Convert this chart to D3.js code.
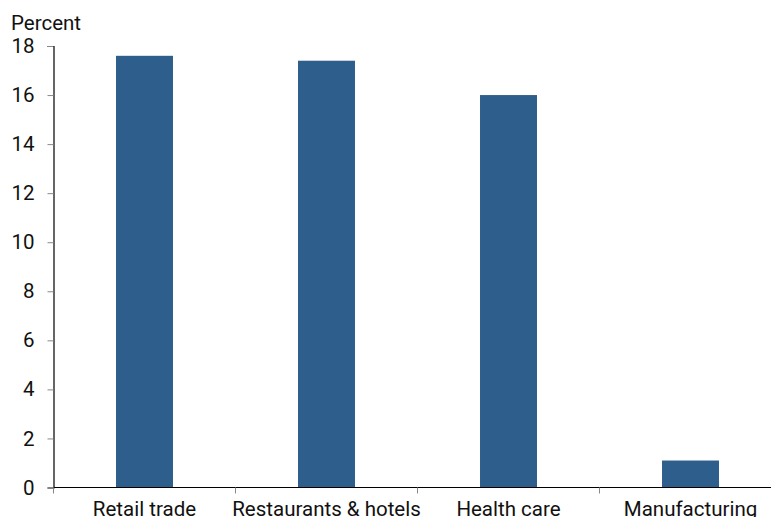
<!DOCTYPE html>
<html>
<head>
<meta charset="utf-8">
<script src="https://cdn.jsdelivr.net/npm/d3@7"></script>
<style>
  body { margin: 0; background: #fff; }
  svg text { font-family: Roboto, "Noto Sans", sans-serif; fill: #111; }
</style>
</head>
<body>
<div id="chart"></div>
<script>
// Data
const categories = ['Retail trade', 'Restaurants & hotels', 'Health care', 'Manufacturing'];
const values = [17.6, 17.4, 16.0, 1.1];
const yTicks = [0, 2, 4, 6, 8, 10, 12, 14, 16, 18];

const W = 771, H = 517;
const margin = { top: 46, left: 53.5, bottom: 29 };
const plotRight = 781.5;
const fontSize = '20.5px';

const svg = d3.select('#chart').append('svg')
    .attr('width', W)
    .attr('height', H);

const x = d3.scaleBand()
    .domain(categories)
    .range([margin.left, plotRight])
    .padding(0);

const y = d3.scaleLinear()
    .domain([0, 18])
    .range([H - margin.bottom - 0.5, margin.top]);

// Bars
const barW = x.bandwidth() * 0.313;
svg.selectAll('.bar')
    .data(values)
    .enter()
    .append('rect')
    .attr('class', 'bar')
    .attr('x', (d, i) => x(categories[i]) + (x.bandwidth() - barW) / 2)
    .attr('y', d => y(d))
    .attr('width', barW)
    .attr('height', d => y(0) - y(d))
    .attr('fill', '#2e5e8c');

// Y axis
const yAxis = svg.append('g')
    .attr('transform', `translate(${margin.left},0)`)
    .call(d3.axisLeft(y).tickValues(yTicks).tickSize(6).tickPadding(13));
yAxis.select('.domain').attr('stroke', '#000').attr('stroke-width', 1.2);
yAxis.selectAll('.tick line').attr('stroke', '#888');
yAxis.selectAll('.tick text')
    .style('font-size', fontSize)
    .attr('fill', '#111');

// X axis line + separator ticks between categories
const xg = svg.append('g');
xg.append('line')
    .attr('x1', margin.left).attr('x2', W)
    .attr('y1', y(0)).attr('y2', y(0))
    .attr('stroke', '#000').attr('stroke-width', 1.2);
const seps = categories.map(c => x(c));
xg.selectAll('.sep')
    .data(seps)
    .enter()
    .append('line')
    .attr('x1', d => d).attr('x2', d => d)
    .attr('y1', y(0)).attr('y2', y(0) + 6)
    .attr('stroke', '#888');
xg.selectAll('.xlab')
    .data(categories)
    .enter()
    .append('text')
    .attr('x', d => x(d) + x.bandwidth() / 2)
    .attr('y', y(0) + 28)
    .attr('text-anchor', 'middle')
    .style('font-size', fontSize)
    .text(d => d);

// Unit label
svg.append('text')
    .attr('x', 11)
    .attr('y', 30)
    .style('font-size', fontSize)
    .text('Percent');
</script>
</body>
</html>
